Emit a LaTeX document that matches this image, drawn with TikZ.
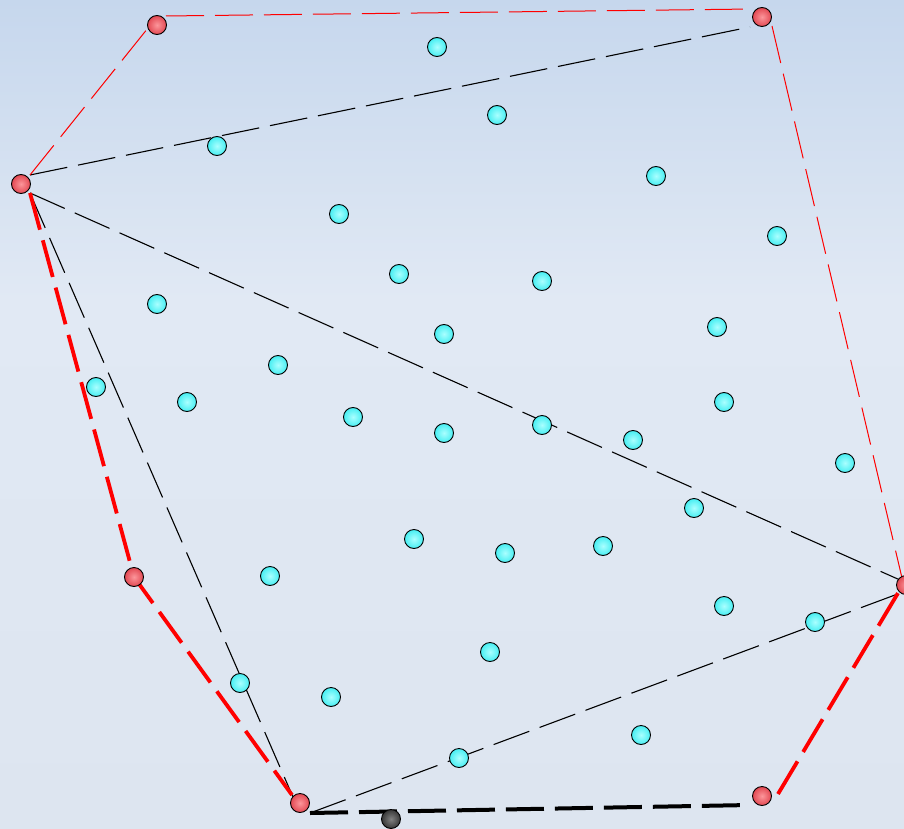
\documentclass[tikz,border=0pt]{standalone}
\usetikzlibrary{shadings}
\definecolor{bgtop}{RGB}{198,215,237}
\definecolor{bgmid}{RGB}{225,233,244}
\definecolor{bgbot}{RGB}{221,229,240}
\definecolor{cyin}{RGB}{170,255,255}
\definecolor{cyout}{RGB}{70,238,242}
\definecolor{rdin}{RGB}{252,150,155}
\definecolor{rdout}{RGB}{226,72,82}
\definecolor{gyin}{RGB}{130,130,130}
\definecolor{gyout}{RGB}{55,55,55}
\definecolor{lred}{RGB}{255,0,0}
\tikzset{
  pt/.style={circle,draw=black,line width=0.9pt,minimum size=19pt,inner sep=0pt},
  cpt/.style={pt,inner color=cyin,outer color=cyout},
  rpt/.style={pt,inner color=rdin,outer color=rdout},
  gpt/.style={pt,inner color=gyin,outer color=gyout},
  dsh/.style={dash pattern=on 38pt off 11pt},
  thinblack/.style={dsh,draw=black,line width=1.1pt},
  thinred/.style={dsh,draw=lred,line width=1pt},
  thickred/.style={dsh,draw=lred,line width=3.8pt},
  thickblack/.style={dsh,draw=black,line width=4pt},
}
\begin{document}
\begin{tikzpicture}[x=1pt,y=-1pt]
\useasboundingbox (0,0) rectangle (904,829);
\shade[top color=bgtop,bottom color=bgmid] (0,0) rectangle (904,300.5);
\shade[top color=bgmid,bottom color=bgbot] (0,300) rectangle (904,829);
% line end coordinates
\coordinate (a3n) at (30,175);
\coordinate (a3s) at (30,193);
\coordinate (a1) at (148,28);
\coordinate (a1e) at (166,16);
\coordinate (a2w) at (753,9);
\coordinate (a2s) at (772,26);
\coordinate (a2b) at (750,27);
\coordinate (a4n) at (902,578);
\coordinate (a4b) at (900,580);
\coordinate (a4s) at (903,592);
\coordinate (a4r) at (904,583);
\coordinate (a5) at (134,577);
\coordinate (a6n) at (292,795);
\coordinate (a6e) at (310,813);
\coordinate (a6w) at (293,797);
\coordinate (a7) at (778,794);
\coordinate (a7b) at (750,805);
% black thin dashed
\draw[thinblack] (a3n) -- (a2b);
\draw[thinblack] (a3s) -- (a4b);
\draw[thinblack] (a3s) -- (a6w);
\draw[thinblack] (a6e) -- (a4s);
% red thin dashed
\draw[thinred] (a3n) -- (a1);
\draw[thinred] (a1e) -- (a2w);
\draw[thinred] (a2s) -- (a4n);
% red thick dashed
\draw[thickred] (a3s) -- (a5) -- (a6n);
\draw[thickred] (a7) -- (a4r);
% black thick dashed
\draw[thickblack] (a6e) -- (a7b);
% cyan points
\foreach \x/\y [count=\i] in {437/47,497/115,217/146,656/176,339/214,777/236,399/274,542/281,157/304,444/334,717/327,278/365,96/387,187/402,353/417,444/433,542/425,633/440,724/402,845/463,694/508,414/539,505/553,603/546,270/576,724/606,815/622,490/652,240/683,331/697,641/735,459/758}
  \node[cpt] (c\i) at (\x,\y) {};
% red points
\node[rpt] (p1) at (157,25) {};
\node[rpt] (p2) at (762,17) {};
\node[rpt] (p3) at (21,184) {};
\node[rpt] (p4) at (906,585) {};
\node[rpt] (p5) at (134,577) {};
\node[rpt] (p6) at (300,803) {};
\node[rpt] (p7) at (762,796) {};
% gray point
\node[gpt] (g1) at (391,819) {};
\end{tikzpicture}
\end{document}
